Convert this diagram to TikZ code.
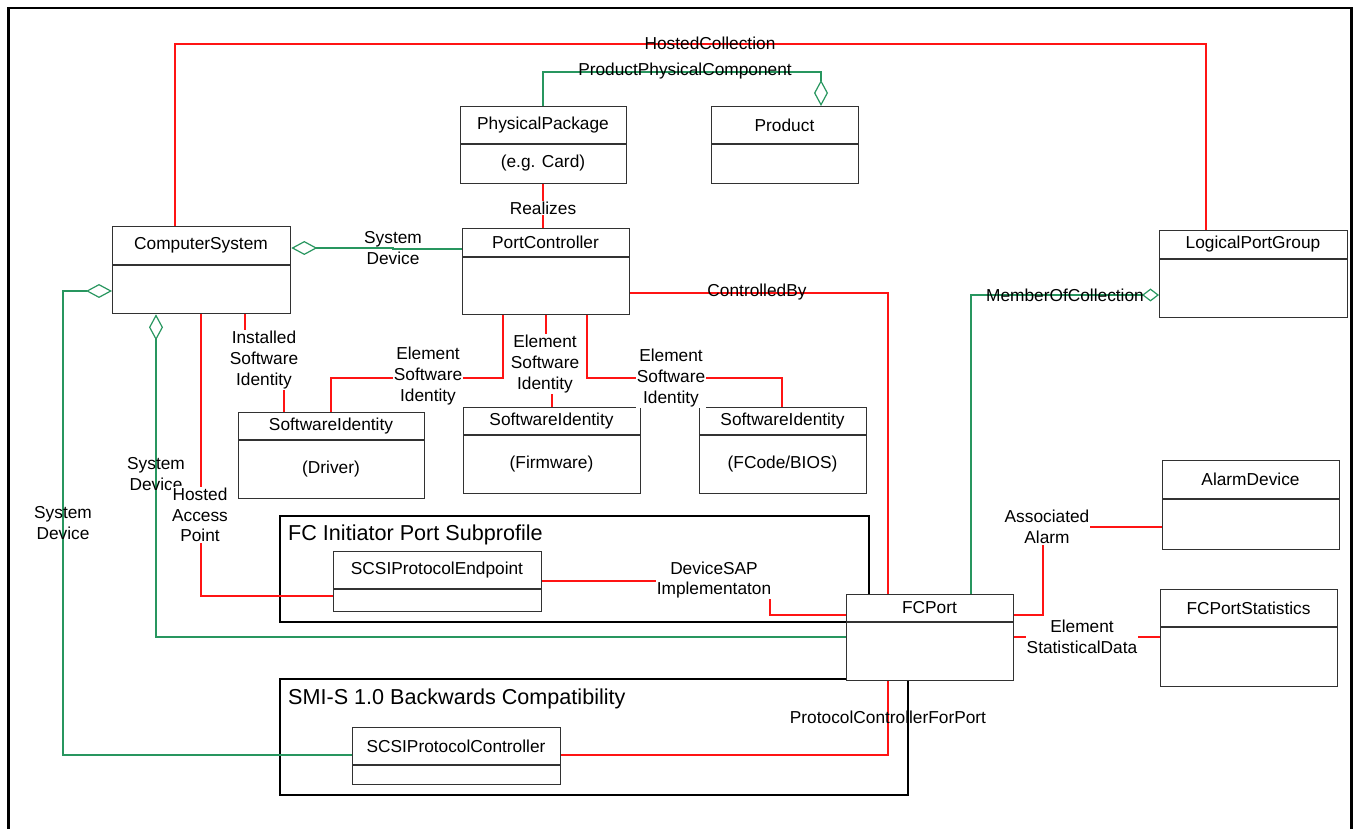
\documentclass[tikz,border=0pt]{standalone}
\usepackage{fontspec}
\setmainfont{Liberation Sans}
\usetikzlibrary{arrows.meta,calc}
\definecolor{assocred}{RGB}{255,20,20}
\definecolor{aggrgreen}{RGB}{40,150,95}
\definecolor{boxgray}{RGB}{50,50,50}
\tikzset{
  cls/.style={draw=boxgray, line width=1.3pt, fill=white, rectangle, anchor=north west, inner sep=0pt},
  clsrule/.style={draw=boxgray, line width=1.3pt},
  txt/.style={font=\fontsize{17.3}{20.7}\selectfont, align=center, inner sep=0pt},
  tag/.style={txt, fill=white, inner sep=1pt},
  ttl/.style={font=\fontsize{21.6}{26}\selectfont, anchor=west, inner sep=0pt},
  subframe/.style={draw=black, line width=2pt, rectangle, anchor=north west, inner sep=0pt},
  assoc/.style={draw=assocred, line width=1.25pt},
  aggr/.style={draw=aggrgreen, line width=1.2pt},
  aggdiamond/.tip={Diamond[open, length=26pt, width=14pt]},
  aggdiamondsmall/.tip={Diamond[open, length=17pt, width=13pt]},
}
% UML class box: name, x, y, width, height, header height, title, body
\newcommand\umlclass[8]{%
  \node[cls, minimum width=#4pt, minimum height=#5pt] (#1) at (#2,#3) {};
  \draw[clsrule] ([yshift=-#6pt]#1.north west) -- ([yshift=-#6pt]#1.north east);
  \node[txt] (#1-title) at ($(#1.north west)+(#4/2,#6/2)$) {#7};
  \node[txt] (#1-body) at ($(#1.north west)+(#4/2,#5/2+#6/2)$) {#8};
}
\begin{document}
\begin{tikzpicture}[x=1pt, y=-1pt]
\useasboundingbox (0,0) rectangle (1353,829);

% page frame (open at the bottom)
\draw[line width=2.5pt] (8.3,829) -- (8.3,8) -- (1351.3,8) -- (1351.3,829);

% subprofile frames
\node[subframe, minimum width=589pt, minimum height=106pt] (fcsub) at (279,515) {};
\node[ttl] (fcsub-title) at (288,535) {FC Initiator Port Subprofile};
\node[subframe, minimum width=628pt, minimum height=116pt] (smis) at (279,678) {};
\node[ttl] (smis-title) at (288,699) {SMI-S 1.0 Backwards Compatibility};

% class boxes (placed first so connectors can refer to them)
\umlclass{cs}{112}{226}{178}{87}{39}{ComputerSystem}{}
\umlclass{pp}{460}{106}{166}{77}{38}{PhysicalPackage}{(e.g. Card)}
\umlclass{prod}{711}{106}{147}{77}{38}{Product}{}
\umlclass{pc}{462}{228}{167}{86}{29}{PortController}{}
\umlclass{lpg}{1159}{230}{188}{87}{29}{LogicalPortGroup}{}
\umlclass{swd}{238}{412}{186}{86}{28}{SoftwareIdentity}{(Driver)}
\umlclass{swf}{463}{407}{177}{86}{28}{SoftwareIdentity}{(Firmware)}
\umlclass{swb}{699}{407}{167}{86}{28}{SoftwareIdentity}{(FCode/BIOS)}
\umlclass{alarm}{1162}{460}{177}{89}{39}{AlarmDevice}{}
\umlclass{stats}{1160}{589}{177}{97}{38}{FCPortStatistics}{}
\umlclass{fcp}{846}{594}{167}{86}{28}{FCPort}{}
\draw[clsrule, line width=2.2pt] ([yshift=-28pt]fcp.north west) -- ([yshift=-28pt]fcp.north east);
\umlclass{spe}{333}{551}{208}{60}{38}{SCSIProtocolEndpoint}{}
\umlclass{spc}{352}{727}{208}{57}{38}{SCSIProtocolController}{}

% connectors
\draw[assoc] ([xshift=63pt]cs.north west) |- (700,44) -| ([xshift=47pt]lpg.north west);
\draw[aggr, -aggdiamond] ([xshift=83pt]pp.north west) |- (680,72) -| ([xshift=110pt]prod.north west);
\draw[assoc] ([xshift=83pt]pp.south west) -- ([xshift=81pt]pc.north west);
\draw[aggr, aggdiamond-] ([yshift=-22pt]cs.north east) -- (393,248) |- ([yshift=-21pt]pc.north west);
\draw[assoc] ([yshift=-65pt]pc.north east) -| ([xshift=42pt]fcp.north west);
\draw[assoc] ([xshift=133pt]cs.south west) -- (245,360) -| ([xshift=46pt]swd.north west);
\draw[assoc] ([xshift=41pt]pc.south west) |- (400,378) -| ([xshift=93pt]swd.north west);
\draw[assoc] ([xshift=84pt]pc.south west) -- (546,370) -| ([xshift=89pt]swf.north west);
\draw[assoc] ([xshift=125pt]pc.south west) |- (700,378) -| ([xshift=83pt]swb.north west);
\draw[aggr, aggdiamond-] ([xshift=44pt]cs.south west) |- ([yshift=-43pt]fcp.north west);
\draw[assoc] ([xshift=89pt]cs.south west) |- ([yshift=-45pt]spe.north west);
\draw[aggr, aggdiamond-] ([yshift=-65pt]cs.north west) -- (63,291) |- ([yshift=-28pt]spc.north west);
\draw[assoc] ([yshift=-30pt]spe.north east) -- (770,581) |- ([yshift=-21pt]fcp.north west);
\draw[assoc, line width=2.2pt] ([yshift=-28pt]spc.north east) -| ([xshift=42pt]fcp.south west);
\draw[aggr, -aggdiamondsmall] ([xshift=125pt]fcp.north west) |- ([yshift=-65pt]lpg.north west);
\draw[assoc] ([yshift=-21pt]fcp.north east) -- (1043,615) |- ([yshift=-67pt]alarm.north west);
\draw[assoc] ([yshift=-43pt]fcp.north east) -- ([yshift=-48pt]stats.north west);

% connector labels
\node[txt] (lHC) at (710,43) {HostedCollection};
\node[txt] (lPPC) at (685,71) {ProductPhysicalComponent};
\node[tag] (lReal) at (543,208) {Realizes};
\node[txt] (lSD1) at (393,248) {System\\Device};
\node[txt] (lCB) at (757,292) {ControlledBy};
\node[tag] (lISI) at (264,360) {Installed\\Software\\Identity};
\node[tag] (lESI1) at (428,376) {Element\\Software\\Identity};
\node[tag] (lESI2) at (545,364) {Element\\Software\\Identity};
\node[tag] (lESI3) at (671,378) {Element\\Software\\Identity};
\node[txt] (lSD2) at (156,474) {System\\Device};
\node[tag] (lHAP) at (200,515) {Hosted\\Access\\Point};
\node[txt] (lSD3) at (63,523) {System\\Device};
\node[tag] (lDSAP) at (714,580) {DeviceSAP\\Implementaton};
\node[txt] (lPCFP) at (888,717) {ProtocolControllerForPort};
\node[txt] (lMOC) at (1065,295) {MemberOfCollection};
\node[tag] (lAA) at (1047,527) {Associated\\Alarm};
\node[tag] (lESD) at (1082,637) {Element\\StatisticalData};
\end{tikzpicture}
\end{document}
